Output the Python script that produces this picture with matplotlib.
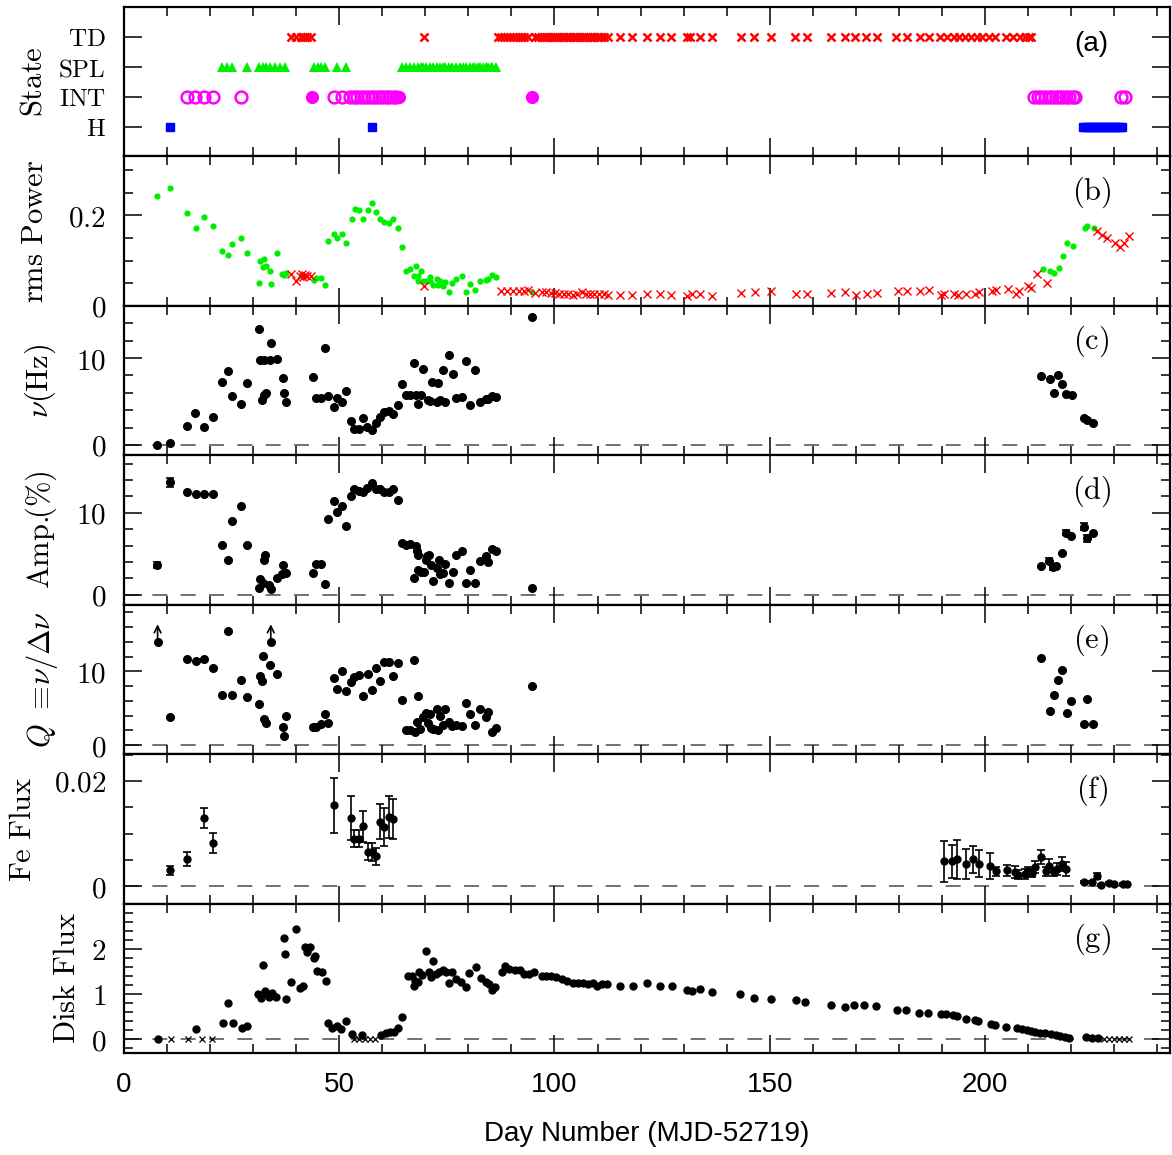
import matplotlib
matplotlib.use('Agg')
import matplotlib.pyplot as plt
from matplotlib.ticker import MultipleLocator, FixedLocator, FuncFormatter
import numpy as np

plt.rcParams['font.family'] = ['Liberation Sans', 'DejaVu Sans']
plt.rcParams['mathtext.fontset'] = 'cm'

# ---------------- data ----------------
# (a) spectral states
state_names = ['H', 'INT', 'SPL', 'TD']
td_days = [38.7, 40.0, 41.1, 41.6, 42.0, 42.5, 43.4, 69.7,
           87.0, 87.6, 88.3, 89.0, 89.7, 90.4, 91.0, 91.7, 92.3, 92.9, 93.8,
           95.5, 96.2, 97.0, 97.6, 98.1, 98.6, 99.1, 99.6, 100.1, 100.6, 101.1,
           101.7, 102.2, 102.7, 103.2, 103.7, 104.2, 104.7, 105.2, 105.8, 106.3,
           106.8, 107.3, 107.8, 108.3, 108.8, 109.3, 109.9, 110.4, 110.9, 111.4,
           112.5, 115.2, 118.1, 121.5, 124.5, 127.0, 130.8, 131.6, 133.9, 136.5,
           143.3, 146.3, 150.3, 155.9, 158.7, 164.3, 167.4, 169.8, 172.4, 175.0,
           179.4, 181.8, 184.9, 186.9, 189.5, 191.2, 192.8, 193.9, 195.3, 196.7,
           198.1, 199.4, 201.0, 202.3, 205.0, 206.5, 208.1, 209.2, 210.2, 210.8]
spl_days = [22.8, 24.0, 25.2, 28.6, 31.3, 32.2, 32.9, 33.9, 35.1, 36.3, 37.5,
            44.1, 45.0, 45.8, 46.8, 49.5, 51.5,
            64.5, 65.5, 66.4, 67.3, 68.2, 68.9, 69.4, 70.1, 71.0, 71.8, 72.6,
            73.4, 74.0, 74.5, 75.5, 76.3, 77.2, 78.0, 78.8, 79.4, 80.3, 81.0,
            81.6, 82.3, 82.8, 83.5, 84.0, 84.6, 85.2, 85.6, 86.4]
int_open_days = [14.6, 16.6, 18.5, 20.6, 27.1, 48.7, 50.6,
                 52.6, 53.4, 54.2, 55.0, 55.8, 56.6, 57.6, 58.4, 59.2, 60.0,
                 60.8, 61.6, 62.4, 63.2,
                 211.5, 212.3, 213.1, 214.0, 214.8, 215.6, 216.4, 217.2, 218.0,
                 218.8, 219.6, 220.4, 221.0, 231.7, 232.6]
int_fill_days = [43.6, 63.9, 94.7]
h_days = [10.8, 57.7,
          222.8, 223.3, 223.8, 224.3, 224.8, 225.3, 225.8, 226.3, 226.8, 227.3,
          227.8, 228.3, 228.8, 229.3, 229.8, 230.3, 230.8, 231.3, 231.9]

# (b) rms power
b_green_days = [7.7, 10.7, 14.7, 16.7, 18.5, 20.6, 22.8, 24.2, 25.2, 27.1, 28.6,
                31.3, 31.7, 32.2, 32.6, 32.9, 33.9, 34.1, 35.5, 36.8, 37.1, 37.6,
                44.1, 44.6, 45.8, 46.8, 47.5, 48.8, 49.5, 50.7, 51.5, 52.9, 53.7,
                54.7, 55.5, 56.6, 57.6, 58.6, 59.5, 60.5, 61.5, 62.5, 63.6, 64.5,
                65.5, 66.4, 67.3, 67.8, 68.2, 68.4, 68.9, 69.4, 70.1, 71.0, 71.2,
                71.8, 72.6, 73.0, 73.4, 74.0, 74.5, 75.5, 76.3, 77.2, 78.5, 79.4,
                80.3, 81.6, 82.8, 84.0, 84.6, 85.6, 86.4, 94.8,
                213.5, 215.2, 216.0, 217.1, 218.1, 219.1, 220.4, 223.2, 223.8, 225.3]
b_green_vals = [0.242, 0.261, 0.206, 0.173, 0.196, 0.176, 0.122, 0.112, 0.137, 0.151, 0.117,
                0.050, 0.100, 0.085, 0.103, 0.089, 0.077, 0.048, 0.117, 0.071, 0.069, 0.073,
                0.058, 0.061, 0.061, 0.046, 0.143, 0.159, 0.149, 0.158, 0.140, 0.192, 0.214,
                0.211, 0.193, 0.212, 0.227, 0.207, 0.192, 0.186, 0.184, 0.192, 0.173, 0.129,
                0.077, 0.081, 0.067, 0.089, 0.067, 0.055, 0.077, 0.055, 0.056, 0.063, 0.054,
                0.047, 0.060, 0.047, 0.056, 0.045, 0.052, 0.030, 0.050, 0.060, 0.066, 0.030,
                0.048, 0.034, 0.055, 0.058, 0.059, 0.069, 0.063, 0.030,
                0.082, 0.078, 0.073, 0.083, 0.111, 0.138, 0.132, 0.171, 0.176, 0.172]
b_red_days = [38.7, 39.9, 40.9, 41.3, 41.7, 42.0, 42.5, 43.4, 69.7,
              87.6, 89.0, 90.4, 91.7, 92.9, 93.8, 95.5, 97.0, 98.1, 99.1, 100.1,
              101.1, 102.2, 103.2, 104.2, 105.2, 106.3, 107.3, 108.3, 109.3, 110.4,
              111.4, 112.4, 115.3, 118.1, 121.5, 124.5, 127.1, 130.9, 131.9, 133.9,
              136.5, 143.4, 146.5, 150.4, 156.1, 158.6, 164.3, 167.6, 170.1, 172.5,
              175.0, 179.9, 182.0, 185.0, 187.1, 189.7, 190.6, 192.9, 193.7, 195.5,
              197.6, 198.6, 201.7, 202.5, 205.3, 207.3, 208.0, 209.9, 210.7, 212.1,
              214.5, 226.1, 227.3, 228.4, 230.2, 231.4, 232.4, 233.4]
b_red_vals = [0.071, 0.054, 0.066, 0.071, 0.064, 0.069, 0.066, 0.067, 0.044,
              0.033, 0.033, 0.033, 0.0335, 0.0335, 0.0345, 0.029, 0.030, 0.030, 0.029, 0.029,
              0.027, 0.027, 0.026, 0.0245, 0.026, 0.030, 0.027, 0.027, 0.026, 0.026,
              0.027, 0.0245, 0.0245, 0.0245, 0.027, 0.026, 0.0245, 0.0215, 0.026, 0.027,
              0.0215, 0.029, 0.030, 0.032, 0.027, 0.027, 0.029, 0.030, 0.023, 0.026,
              0.029, 0.032, 0.032, 0.032, 0.035, 0.0245, 0.027, 0.026, 0.023, 0.026,
              0.026, 0.030, 0.032, 0.035, 0.038, 0.027, 0.032, 0.045, 0.039, 0.071,
              0.051, 0.165, 0.156, 0.151, 0.140, 0.131, 0.140, 0.154]

# (c) QPO frequency (Hz)
c_days = [7.7, 10.7, 14.7, 16.6, 18.5, 20.6, 22.8, 24.2, 25.2, 27.1, 28.6, 31.3, 31.7,
          32.0, 32.5, 32.6, 32.9, 33.9, 34.1, 35.5, 36.9, 37.2, 37.6, 44.0, 44.5, 45.8,
          46.8, 47.5, 48.8, 49.5, 50.7, 51.5, 52.8, 53.5, 54.7, 55.5, 56.5, 57.6, 58.6,
          59.4, 60.5, 61.5, 62.5, 63.6, 64.5, 65.5, 66.4, 67.3, 67.8, 68.2, 68.9, 69.4,
          70.7, 71.1, 71.6, 72.6, 73.0, 73.4, 74.0, 74.6, 75.6, 76.4, 77.1, 78.5, 79.4,
          80.3, 81.6, 82.8, 84.0, 84.6, 85.6, 86.4, 94.7,
          213.1, 215.1, 216.0, 217.0, 218.0, 218.9, 220.2, 223.0, 223.7, 225.1]
c_vals = [0.03, 0.2, 2.2, 3.7, 2.1, 3.2, 7.2, 8.5, 5.65, 4.7, 7.1, 13.3, 9.8,
          5.2, 9.75, 5.7, 5.95, 9.8, 11.75, 9.9, 7.75, 5.95, 4.95, 7.8, 5.4, 5.4,
          11.1, 5.65, 4.4, 5.4, 4.9, 6.2, 2.75, 1.85, 1.85, 3.1, 2.1, 1.7, 2.5,
          3.2, 3.8, 3.9, 3.6, 4.6, 7.06, 5.7, 5.7, 9.4, 5.7, 4.7, 5.7, 8.7,
          5.2, 5.0, 7.2, 4.9, 7.1, 5.2, 8.6, 4.9, 10.3, 8.2, 5.35, 5.5, 9.6,
          4.6, 8.6, 4.9, 5.25, 5.25, 5.6, 5.5, 14.7,
          7.9, 7.63, 6.0, 8.1, 7.0, 5.9, 5.8, 3.05, 2.85, 2.5]

# (d) QPO amplitude (%)
d_days = [7.7, 10.7, 14.7, 16.7, 18.5, 20.6, 22.8, 24.2, 25.2, 27.1, 28.6, 31.3, 31.7,
          32.2, 32.5, 32.8, 33.7, 34.1, 35.5, 36.8, 36.9, 37.6, 44.0, 44.5, 45.8, 46.8,
          47.5, 48.8, 49.5, 50.7, 51.5, 52.8, 53.5, 54.7, 55.6, 56.5, 57.6, 58.6, 59.5,
          60.5, 61.5, 62.5, 63.6, 64.5, 65.5, 66.4, 67.3, 67.8, 68.0, 68.2, 68.3, 69.1,
          69.6, 70.1, 70.3, 70.9, 71.4, 71.8, 72.7, 73.1, 73.4, 74.0, 74.5, 75.6, 76.4,
          77.1, 78.5, 79.4, 80.3, 81.6, 82.8, 84.0, 84.6, 85.6, 86.4, 94.7,
          213.1, 214.8, 215.8, 216.6, 218.0, 218.9, 220.1, 223.0, 223.7, 225.1]
d_vals = [3.63, 13.7, 12.5, 12.3, 12.25, 12.25, 6.1, 4.3, 9.0, 10.8, 6.1, 0.85, 1.9,
          1.45, 4.3, 4.9, 1.2, 0.75, 2.05, 2.6, 3.6, 2.7, 2.7, 3.8, 3.8, 1.3,
          9.2, 11.4, 10.05, 10.8, 8.35, 12.0, 12.9, 12.7, 12.5, 13.07, 13.6, 12.9, 12.9,
          12.5, 12.5, 12.9, 11.5, 6.37, 6.1, 6.2, 2.05, 6.0, 5.4, 4.8, 3.0, 2.8,
          2.75, 4.2, 4.7, 4.9, 3.7, 1.75, 3.3, 4.2, 2.6, 2.7, 3.75, 1.5, 2.8,
          4.85, 5.3, 1.45, 3.0, 1.5, 4.1, 4.7, 4.0, 5.6, 5.4, 0.9,
          3.55, 4.15, 3.35, 3.5, 5.16, 7.58, 7.2, 8.3, 6.9, 7.58]
d_errs = [0.4, 0.55, 0, 0, 0, 0, 0, 0, 0, 0, 0, 0, 0,
          0, 0, 0, 0, 0, 0, 0, 0, 0, 0, 0, 0, 0,
          0, 0, 0, 0, 0, 0, 0, 0, 0, 0, 0, 0, 0,
          0, 0, 0, 0, 0, 0, 0, 0, 0, 0, 0, 0, 0,
          0, 0, 0, 0, 0, 0, 0, 0, 0, 0, 0, 0, 0,
          0, 0, 0, 0, 0, 0, 0, 0, 0, 0, 0,
          0, 0.3, 0.3, 0.3, 0, 0.3, 0, 0.45, 0.45, 0]

# (e) quality factor Q
e_days = [7.8, 10.7, 14.7, 16.7, 18.5, 20.6, 22.8, 24.2, 25.2, 27.1, 28.6, 31.3, 31.7,
          32.1, 32.2, 32.5, 32.9, 33.9, 34.1, 35.5, 36.9, 37.1, 37.6, 44.0, 44.6, 45.8,
          46.8, 47.5, 48.8, 49.5, 50.7, 51.5, 52.8, 53.5, 54.7, 55.5, 56.6, 57.6, 58.6,
          59.5, 60.5, 61.5, 62.5, 63.6, 64.5, 65.5, 66.4, 67.3, 67.7, 68.0, 68.2, 68.8,
          69.4, 70.1, 70.7, 71.1, 71.4, 71.8, 72.6, 73.0, 73.4, 74.0, 74.5, 75.6, 76.3,
          77.2, 78.5, 79.4, 80.3, 81.6, 82.8, 84.0, 84.6, 85.6, 86.4, 94.7,
          213.1, 215.1, 216.0, 217.0, 218.0, 219.1, 220.1, 223.0, 223.7, 225.1]
e_vals = [13.96, 3.8, 11.7, 11.35, 11.6, 10.4, 6.85, 15.45, 6.8, 8.8, 6.5, 5.6, 9.3,
          8.7, 12.1, 3.5, 3.0, 10.9, 13.96, 9.7, 2.5, 1.26, 4.0, 2.5, 2.5, 2.9,
          4.2, 3.0, 9.05, 7.6, 10.0, 7.3, 8.6, 9.2, 9.5, 6.6, 9.7, 7.5, 10.45,
          8.7, 11.25, 11.25, 9.3, 11.1, 6.1, 2.1, 2.0, 11.5, 1.8, 3.1, 6.6, 2.2,
          3.8, 4.4, 3.0, 4.25, 2.4, 2.2, 4.9, 2.1, 3.9, 2.7, 4.9, 3.1, 2.65,
          2.7, 2.55, 5.65, 4.2, 2.7, 4.9, 3.8, 4.5, 1.8, 2.4, 8.0,
          11.85, 4.6, 6.85, 8.8, 10.2, 4.3, 6.0, 2.85, 6.2, 2.9]
e_lowlim_days = [7.8, 34.1]
e_lowlim_vals = [13.96, 13.96]

# (f) Fe line flux
f_days = [10.7, 14.7, 18.5, 20.6, 48.8, 52.8, 53.5, 54.5, 55.6, 56.6, 57.6, 58.6, 59.4,
          60.5, 61.5, 62.5, 190.5, 192.4, 193.5, 195.5, 197.3, 198.6, 201.1, 202.5, 205.1,
          206.9, 207.8, 209.2, 210.1, 210.9, 211.7, 213.0, 214.1, 214.9, 216.0, 216.7,
          217.8, 218.9, 223.0, 224.9, 226.0, 226.9, 228.9, 229.9, 232.0, 233.1]
f_vals = [0.0030, 0.0052, 0.0129, 0.0083, 0.0154, 0.0130, 0.0090, 0.0090, 0.0114, 0.0066,
          0.0065, 0.0057, 0.0123, 0.0113, 0.0132, 0.0127, 0.0047, 0.0047, 0.0051, 0.0042,
          0.0051, 0.0043, 0.0039, 0.0028, 0.0030, 0.0027, 0.0022, 0.0023, 0.0028, 0.0025,
          0.0036, 0.0055, 0.0028, 0.0039, 0.0027, 0.0033, 0.0042, 0.0033, 0.0008, 0.0008,
          0.0019, 0.0003, 0.0006, 0.0005, 0.0005, 0.0004]
f_errs = [0.0008, 0.0014, 0.0019, 0.0019, 0.0052, 0.0042, 0.0016, 0.0016, 0.0029, 0.0016,
          0.0017, 0.0016, 0.0033, 0.0036, 0.0040, 0.0038, 0.0039, 0.0032, 0.0037, 0.0028,
          0.0025, 0.0025, 0.0025, 0.0008, 0.0011, 0.0011, 0.0009, 0.0009, 0.0008, 0.0008,
          0.0011, 0.0013, 0.0009, 0.0012, 0.0008, 0.0011, 0.0013, 0.0013, 0.0002, 0.0002,
          0.0006, 0.0002, 0.0002, 0.0002, 0.0002, 0.0002]

# (g) disk flux
g_days = [7.8, 16.8, 22.9, 24.2, 25.3, 27.3, 28.5, 31.2, 31.9, 32.4, 32.7, 33.2, 33.8,
          34.3, 35.4, 37.1, 37.4, 37.7, 38.9, 40.0, 41.0, 41.6, 42.1, 42.5, 43.3, 44.1,
          44.4, 44.9, 46.0, 46.9, 47.5, 48.4, 49.4, 50.3, 51.6, 53.0, 55.3, 59.6, 60.9,
          61.8, 62.8, 63.7, 64.6, 65.9, 67.0, 67.4, 67.7, 68.4, 68.5, 69.3, 70.1, 70.9,
          71.3, 71.9, 72.4, 73.2, 74.0, 74.7, 75.5, 76.3, 77.1, 78.3, 79.4, 80.2, 81.8,
          83.0, 84.1, 84.9, 85.5, 86.1, 87.7, 88.4, 89.5, 90.8, 91.9, 93.0, 94.2, 95.3,
          97.0, 98.1, 99.2, 100.4, 101.7, 102.9, 104.3, 105.4, 106.7, 107.7, 109.0, 109.8,
          111.0, 112.3, 115.2, 118.2, 121.4, 124.6, 127.2, 130.9, 131.9, 133.9, 136.5,
          143.2, 146.3, 150.2, 156.1, 158.3, 164.2, 167.4, 169.7, 172.0, 174.8, 179.5,
          181.7, 184.8, 186.8, 189.9, 191.0, 192.6, 193.5, 195.7, 197.7, 198.5, 201.3,
          202.4, 205.0, 207.5, 208.6, 209.7, 210.6, 211.7, 212.8, 214.0, 215.3, 216.4,
          217.5, 218.7, 219.6, 223.4, 224.9, 226.2]
g_vals = [0.02, 0.22, 0.365, 0.81, 0.365, 0.26, 0.29, 1.01, 0.92, 1.64, 1.08, 1.01, 0.94,
          1.02, 0.93, 2.25, 1.89, 0.90, 1.27, 2.43, 1.13, 1.17, 2.04, 1.92, 2.04, 1.80,
          1.85, 1.52, 1.49, 1.30, 0.365, 0.26, 0.30, 0.22, 0.41, 0.12, 0.10, 0.10, 0.145,
          0.17, 0.16, 0.26, 0.50, 1.41, 1.39, 1.17, 1.30, 1.27, 1.50, 1.43, 1.96, 1.49,
          1.38, 1.74, 1.45, 1.49, 1.53, 1.50, 1.25, 1.49, 1.34, 1.27, 1.16, 1.47, 1.61,
          1.36, 1.27, 1.23, 1.10, 1.16, 1.49, 1.63, 1.56, 1.54, 1.53, 1.45, 1.45, 1.50,
          1.39, 1.41, 1.39, 1.37, 1.34, 1.30, 1.24, 1.24, 1.24, 1.23, 1.24, 1.19,
          1.23, 1.23, 1.19, 1.19, 1.24, 1.19, 1.17, 1.10, 1.08, 1.12, 1.05,
          1.01, 0.92, 0.89, 0.87, 0.83, 0.77, 0.72, 0.75, 0.75, 0.73, 0.64,
          0.66, 0.59, 0.59, 0.56, 0.56, 0.54, 0.52, 0.46, 0.42, 0.41, 0.35,
          0.32, 0.27, 0.25, 0.22, 0.21, 0.19, 0.17, 0.15, 0.14, 0.12, 0.10,
          0.07, 0.05, 0.04, 0.05, 0.04, 0.04]
g_x_days = [10.9, 14.8, 18.2, 20.4, 53.4, 54.7, 55.9, 57.2, 58.4,
            227.7, 228.8, 229.9, 231.2, 232.4, 233.5]
g_x_vals = [0, 0, 0, 0, 0, 0, 0, 0, 0, 0, 0, 0, 0, 0, 0]

# ---------------- figure ----------------
fig = plt.figure(figsize=(11.72, 11.55), dpi=100)
axes = fig.subplots(7, 1, sharex=True, gridspec_kw=dict(hspace=0))
fig.subplots_adjust(left=0.1058, right=0.9983, top=0.9939, bottom=0.0883)

def mt(s):
    return r'$\mathrm{' + s + '}$'

def numfmt(v, pos):
    if abs(v) < 1e-12:
        return mt('0')
    return mt('%g' % v)

panel_labels = ['(a)', '(b)', '(c)', '(d)', '(e)', '(f)', '(g)']
for i, ax in enumerate(axes):
    for sp in ax.spines.values():
        sp.set_linewidth(1.6)
    ax.set_xlim(0, 243)
    ax.xaxis.set_major_locator(MultipleLocator(50))
    ax.xaxis.set_minor_locator(MultipleLocator(10))
    ax.tick_params(which='both', direction='in', top=True, right=True,
                   bottom=True, left=True, width=1.1)
    ax.tick_params(which='major', length=13)
    ax.tick_params(which='minor', length=6.5)
    ax.tick_params(axis='y', labelsize=21, pad=13)
    if i == 0:
        ax.text(0.925, 0.755, panel_labels[i], transform=ax.transAxes,
                fontsize=20, ha='center', va='center')
    else:
        ax.text(0.925, 0.76, mt(panel_labels[i]), transform=ax.transAxes,
                fontsize=22, ha='center', va='center')
    if i > 1:
        ax.axhline(0, color='0.35', lw=1.2, dashes=(9, 8), zorder=1)

# (a)
ax = axes[0]
ax.plot(td_days, [4] * len(td_days), ls='none', marker='x', color='red', ms=6, mew=1.8)
ax.plot(spl_days, [3] * len(spl_days), ls='none', marker='^', color='#00ee00', ms=7.5, mew=0)
ax.plot(int_open_days, [2] * len(int_open_days), ls='none', marker='o', mfc='none',
        mec='magenta', ms=8.5, mew=1.8)
ax.plot(int_fill_days, [2] * len(int_fill_days), ls='none', marker='o', color='magenta', ms=8.5)
ax.plot(h_days, [1] * len(h_days), ls='none', marker='s', color='blue', ms=5.5)
ax.set_ylim(0, 5)
ax.yaxis.set_major_locator(FixedLocator([1, 2, 3, 4]))
ax.set_yticklabels([mt(s) for s in state_names], fontsize=18)
ax.yaxis.set_minor_locator(FixedLocator([]))
ax.set_ylabel(mt('State'), fontsize=22)
ax.yaxis.set_label_coords(-0.072, 0.5)

# (b)
ax = axes[1]
ax.plot(b_green_days, b_green_vals, ls='none', marker='o', color='#00ee00', ms=4.5, mew=0)
ax.plot(b_red_days, b_red_vals, ls='none', marker='x', color='red', ms=6, mew=1.0)
ax.set_ylim(0, 0.33)
ax.yaxis.set_major_locator(FixedLocator([0, 0.2]))
ax.yaxis.set_minor_locator(MultipleLocator(0.05))
ax.yaxis.set_major_formatter(FuncFormatter(numfmt))
ax.set_ylabel(mt(r'rms\ Power'), fontsize=22)
ax.yaxis.set_label_coords(-0.071, 0.5)

# (c)
ax = axes[2]
ax.plot(c_days, c_vals, ls='none', marker='o', color='k', ms=5.5)
ax.set_ylim(-1.2, 16)
ax.yaxis.set_major_locator(FixedLocator([0, 10]))
ax.yaxis.set_minor_locator(MultipleLocator(2))
ax.yaxis.set_major_formatter(FuncFormatter(numfmt))
ax.set_ylabel(r'$\nu\mathrm{(Hz)}$', fontsize=22)
ax.yaxis.set_label_coords(-0.063, 0.5)

# (d)
ax = axes[3]
d_days_a = np.array(d_days); d_vals_a = np.array(d_vals); d_errs_a = np.array(d_errs)
m = d_errs_a > 0
ax.plot(d_days_a[~m], d_vals_a[~m], ls='none', marker='o', color='k', ms=5.5)
ax.errorbar(d_days_a[m], d_vals_a[m], yerr=d_errs_a[m], fmt='o', color='k', ms=5.5,
            capsize=3, elinewidth=1.2, capthick=1.2)
ax.set_ylim(-1.2, 17)
ax.yaxis.set_major_locator(FixedLocator([0, 10]))
ax.yaxis.set_minor_locator(MultipleLocator(2))
ax.yaxis.set_major_formatter(FuncFormatter(numfmt))
ax.set_ylabel(r'$\mathrm{Amp.}\!\!\mathrm{(\%)}$', fontsize=22)
ax.yaxis.set_label_coords(-0.062, 0.5)

# (e)
ax = axes[4]
ax.plot(e_days, e_vals, ls='none', marker='o', color='k', ms=5.5)
for xd, yv in zip(e_lowlim_days, e_lowlim_vals):
    ax.annotate('', xy=(xd, yv + 2.4), xytext=(xd, yv),
                arrowprops=dict(arrowstyle='->', lw=1.2, color='k',
                                shrinkA=0, shrinkB=0, mutation_scale=12))
ax.set_ylim(-1.2, 19)
ax.yaxis.set_major_locator(FixedLocator([0, 10]))
ax.yaxis.set_minor_locator(MultipleLocator(2))
ax.yaxis.set_major_formatter(FuncFormatter(numfmt))
ax.set_ylabel(r'$Q\ \equiv\!\nu/\Delta\nu$', fontsize=22)
ax.yaxis.set_label_coords(-0.061, 0.5)

# (f)
ax = axes[5]
ax.errorbar(f_days, f_vals, yerr=f_errs, fmt='o', color='k', ms=5,
            capsize=3, elinewidth=1.2, capthick=1.2)
ax.set_ylim(-0.0033, 0.0251)
ax.yaxis.set_major_locator(FixedLocator([0, 0.02]))
ax.yaxis.set_minor_locator(MultipleLocator(0.005))
ax.yaxis.set_major_formatter(FuncFormatter(numfmt))
ax.set_ylabel(mt(r'Fe\ Flux'), fontsize=22)
ax.yaxis.set_label_coords(-0.082, 0.5)

# (g)
ax = axes[6]
ax.plot(g_days, g_vals, ls='none', marker='o', color='k', ms=5)
ax.plot(g_x_days, g_x_vals, ls='none', marker='x', color='k', ms=5, mew=0.9)
ax.set_ylim(-0.3, 3.0)
ax.yaxis.set_major_locator(FixedLocator([0, 1, 2]))
ax.yaxis.set_minor_locator(MultipleLocator(0.2))
ax.yaxis.set_major_formatter(FuncFormatter(numfmt))
ax.set_ylabel(mt(r'Disk\ Flux'), fontsize=22)
ax.yaxis.set_label_coords(-0.040, 0.5)
ax.tick_params(axis='x', labelsize=20, pad=14)
ax.set_xlabel('Day Number (MJD-52719)', fontsize=20, labelpad=16)

fig.savefig('out.png', dpi=100)
